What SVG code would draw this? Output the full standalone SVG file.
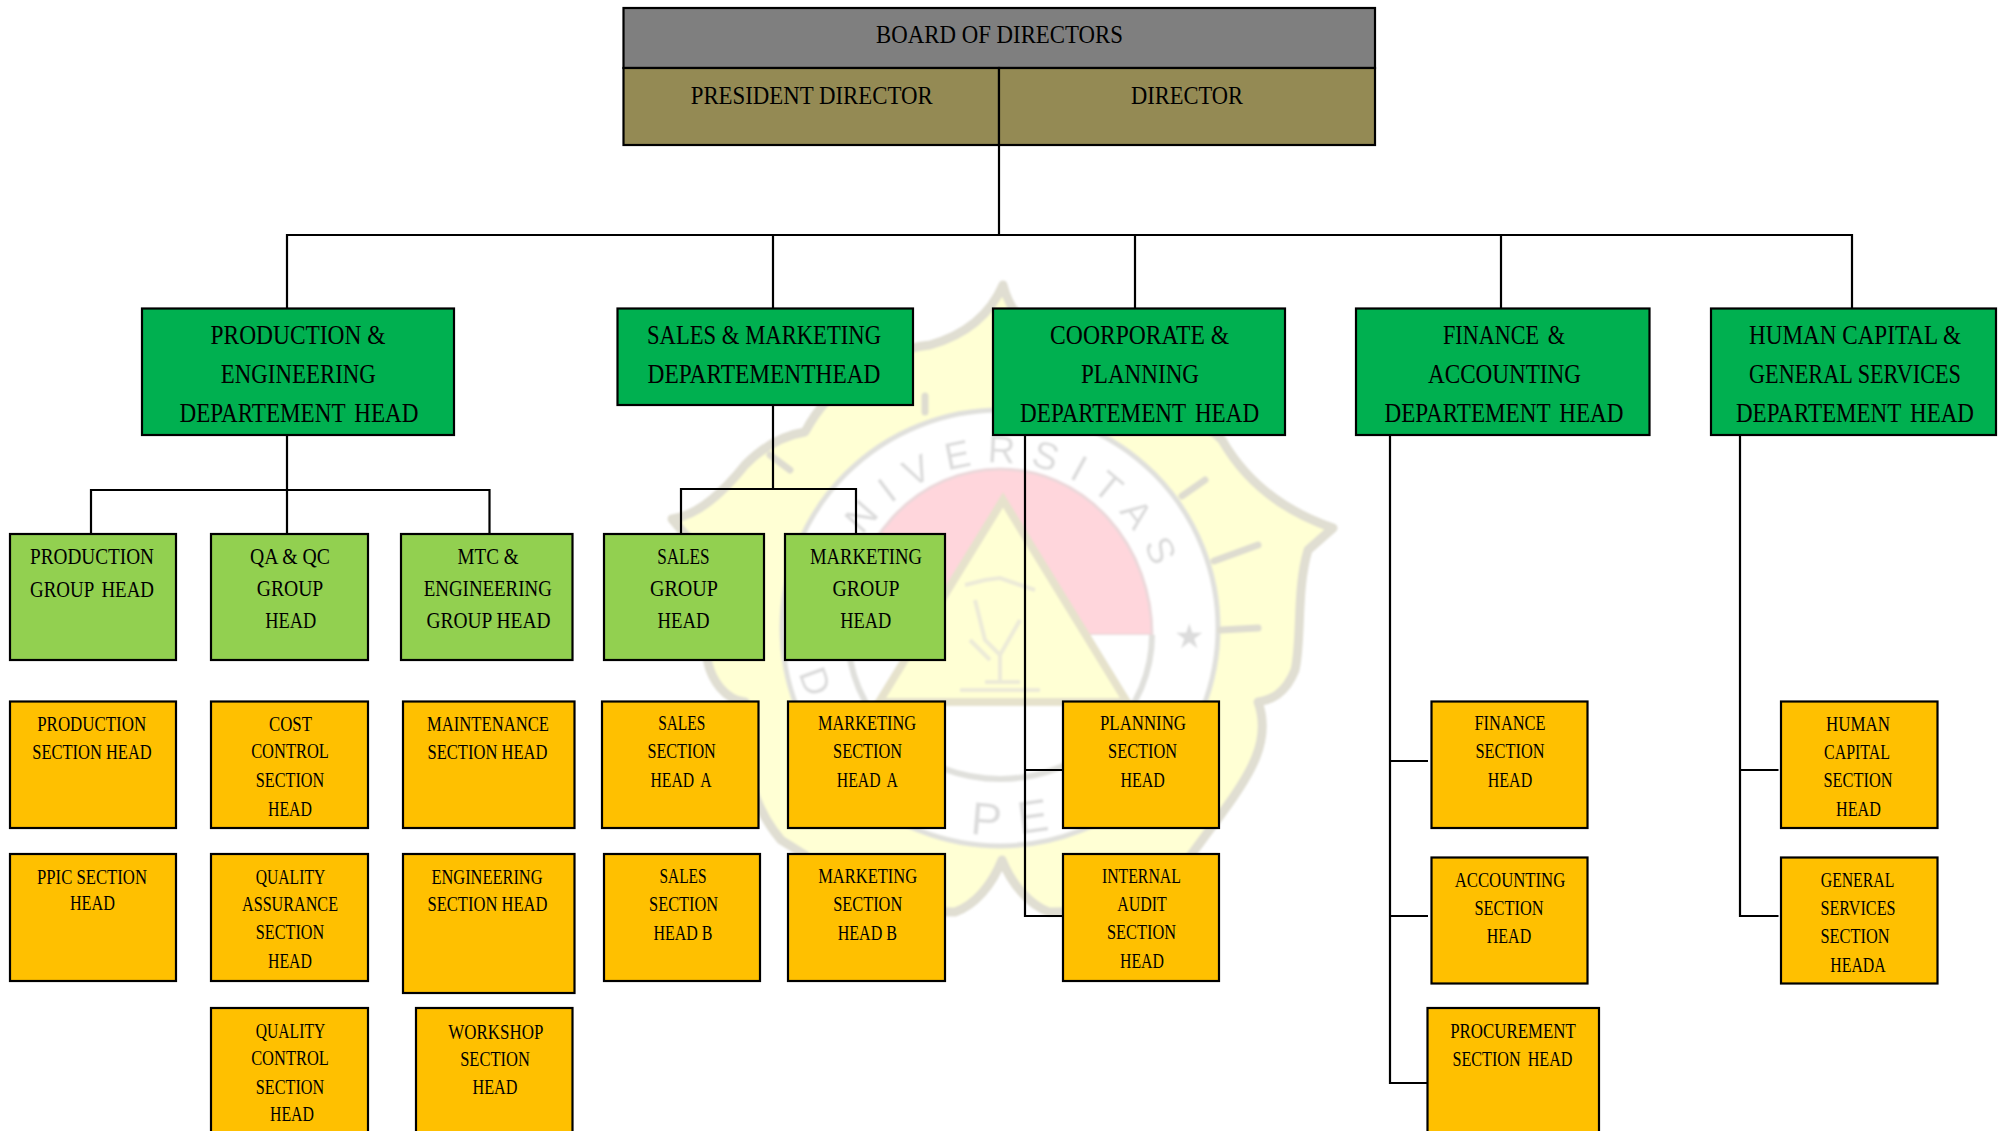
<svg xmlns="http://www.w3.org/2000/svg" width="2003" height="1131" viewBox="0 0 2003 1131">
<style>
text{font-family:"Liberation Serif","Times New Roman",serif;fill:#000;text-anchor:middle}
.b{font-size:26px}.d{font-size:27px}.g{font-size:24px}.s{font-size:22px}
.w{word-spacing:4px}
rect{stroke:#000;stroke-width:2.2}
.gray{fill:#7f7f7f}.olive{fill:#948a54}.dept{fill:#00b050}.grp{fill:#92d050}.sec{fill:#ffc000}
.c{fill:none;stroke:#000;stroke-width:2.2}
.wl{fill:none;stroke:#dedcd0;stroke-width:7;stroke-linejoin:round;stroke-linecap:round}
.wt{font-family:"Liberation Sans",Arial,sans-serif;fill:#dcdcdc;font-size:38px}
</style>
<defs>
<path id="arc" d="M 863 536 A 165 165 0 0 1 1165 628"/>
<filter id="soft" x="-5%" y="-5%" width="110%" height="110%"><feGaussianBlur stdDeviation="1"/></filter>
</defs>
<rect x="0" y="0" width="2003" height="1131" style="fill:#fff;stroke:none"/>
<g id="watermark" filter="url(#soft)">
<path d="M1003 285 C1012 320 1040 345 1090 358 C1130 365 1175 395 1222 440 C1245 480 1280 510 1333 528 L1308 550 C1296 590 1302 640 1295 670 C1285 695 1270 700 1258 702 C1272 740 1250 775 1222 813 L1191 855 C1190 890 1140 912 1049 912 C1030 905 1012 885 1002 860 C992 885 975 905 955 912 C860 912 815 890 805 855 L781 840 C755 810 738 760 745 702 C725 700 712 680 708 663 C700 620 695 570 690 540 L672 519 C700 515 725 490 745 465 C765 445 785 435 805 432 C830 385 880 350 930 345 C965 335 990 315 1003 285 Z" fill="#ffffd4" stroke="#e0ded2" stroke-width="9" stroke-linejoin="round"/>
<circle cx="1000" cy="628" r="218" fill="#fff" stroke="#e0e0dc" stroke-width="5"/>
<path d="M848 635 A152 166 0 0 1 1152 635 Z" fill="#ffd6dc" stroke="#ebd8da" stroke-width="3"/>
<path d="M848 635 A152 144 0 0 0 1152 635" fill="#fff" stroke="#e0e0dc" stroke-width="6"/>
<path d="M1003 500 L1127 702 L879 702 Z" fill="#ffffd4" stroke="#e6e2cc" stroke-width="8"/>
<path class="wl" d="M1182 496 L1205 480M1214 561 L1258 545M1221 630 L1258 628M925 396 L925 412M790 470 L770 455"/>
<path d="M965 585 L985 580 L1000 578 L1020 585 L1035 590M975 600 L985 640 L1000 655L1020 620M970 640 L990 660M1000 655 L1000 680M985 682 L1020 682M960 690 L1040 690" fill="none" stroke="#ecead8" stroke-width="4"/>
<text class="wt" style="text-anchor:start"><textPath href="#arc" style="letter-spacing:15px">NIVERSITAS</textPath></text>
<text class="wt" x="1189" y="648" style="font-size:34px">★</text>
<text class="wt" x="803" y="686" transform="rotate(70 803 686)">D</text>
<text class="wt" x="985" y="835" transform="rotate(5 985 835)" style="font-size:46px">P</text>
<text class="wt" x="1035" y="832" transform="rotate(-8 1035 832)" style="font-size:46px">E</text>
</g>
<g id="connectors">
<path class="c" d="M999 145V235M287 308V235H1852V308M773 235V308M1135 235V308M1501 235V308"/>
<path class="c" d="M287 435V534M91 534V490H489.500V534"/>
<path class="c" d="M773 405V489M681 534V489H856V534"/>
<path class="c" d="M1025 435V916H1062M1025 770H1062"/>
<path class="c" d="M1390 435V1083H1428M1390 761H1428M1390 916H1428"/>
<path class="c" d="M1740 435V916H1778.500M1740 770H1778.500"/>
</g>
<g id="board">
<rect class="gray" x="623.500" y="8" width="751.500" height="60"/>
<text class="b" x="999.500" y="43" textLength="247" lengthAdjust="spacingAndGlyphs">BOARD OF DIRECTORS</text>
</g>
<g id="president-director">
<rect class="olive" x="623.500" y="68" width="375.500" height="77"/>
<text class="b" x="811.700" y="104" textLength="242" lengthAdjust="spacingAndGlyphs">PRESIDENT DIRECTOR</text>
</g>
<g id="director">
<rect class="olive" x="999" y="68" width="376" height="77"/>
<text class="b" x="1187" y="104" textLength="112" lengthAdjust="spacingAndGlyphs">DIRECTOR</text>
</g>
<g id="dept-production">
<rect class="dept" x="142" y="308.500" width="312" height="126.500"/>
<text class="d" x="298" y="344" textLength="175" lengthAdjust="spacingAndGlyphs">PRODUCTION &amp;</text>
<text class="d" x="298.300" y="383" textLength="155" lengthAdjust="spacingAndGlyphs">ENGINEERING</text>
<text class="d w" x="299" y="422" textLength="239" lengthAdjust="spacingAndGlyphs">DEPARTEMENT HEAD</text>
</g>
<g id="dept-sales">
<rect class="dept" x="617.500" y="308.500" width="295.500" height="96.500"/>
<text class="d" x="764" y="344" textLength="234" lengthAdjust="spacingAndGlyphs">SALES &amp; MARKETING</text>
<text class="d" x="764" y="383" textLength="233" lengthAdjust="spacingAndGlyphs">DEPARTEMENTHEAD</text>
</g>
<g id="dept-corporate">
<rect class="dept" x="993" y="308.500" width="292" height="126.500"/>
<text class="d" x="1139.600" y="344" textLength="179" lengthAdjust="spacingAndGlyphs">COORPORATE &amp;</text>
<text class="d" x="1140" y="383" textLength="118" lengthAdjust="spacingAndGlyphs">PLANNING</text>
<text class="d w" x="1139.600" y="422" textLength="239" lengthAdjust="spacingAndGlyphs">DEPARTEMENT HEAD</text>
</g>
<g id="dept-finance">
<rect class="dept" x="1356" y="308.500" width="293.500" height="126.500"/>
<text class="d w" x="1504" y="344" textLength="122" lengthAdjust="spacingAndGlyphs">FINANCE &amp;</text>
<text class="d" x="1504.500" y="383" textLength="153" lengthAdjust="spacingAndGlyphs">ACCOUNTING</text>
<text class="d w" x="1504" y="422" textLength="239" lengthAdjust="spacingAndGlyphs">DEPARTEMENT HEAD</text>
</g>
<g id="dept-hc">
<rect class="dept" x="1711" y="308.500" width="285" height="126.500"/>
<text class="d" x="1855" y="344" textLength="212" lengthAdjust="spacingAndGlyphs">HUMAN CAPITAL &amp;</text>
<text class="d" x="1855" y="383" textLength="212" lengthAdjust="spacingAndGlyphs">GENERAL SERVICES</text>
<text class="d w" x="1855" y="422" textLength="238" lengthAdjust="spacingAndGlyphs">DEPARTEMENT HEAD</text>
</g>
<g id="group-production">
<rect class="grp" x="10" y="534" width="166" height="126"/>
<text class="g" x="92" y="564" textLength="124" lengthAdjust="spacingAndGlyphs">PRODUCTION</text>
<text class="g w" x="92" y="596.500" textLength="124" lengthAdjust="spacingAndGlyphs">GROUP HEAD</text>
</g>
<g id="group-qa">
<rect class="grp" x="211" y="534" width="157" height="126"/>
<text class="g" x="290" y="564" textLength="80" lengthAdjust="spacingAndGlyphs">QA &amp; QC</text>
<text class="g" x="290" y="596" textLength="66.600" lengthAdjust="spacingAndGlyphs">GROUP</text>
<text class="g" x="290.800" y="628" textLength="51" lengthAdjust="spacingAndGlyphs">HEAD</text>
</g>
<g id="group-mtc">
<rect class="grp" x="401" y="534" width="171.500" height="126"/>
<text class="g" x="488" y="564" textLength="61" lengthAdjust="spacingAndGlyphs">MTC &amp;</text>
<text class="g" x="487.800" y="596" textLength="128" lengthAdjust="spacingAndGlyphs">ENGINEERING</text>
<text class="g" x="488.500" y="628" textLength="124" lengthAdjust="spacingAndGlyphs">GROUP HEAD</text>
</g>
<g id="group-sales">
<rect class="grp" x="604" y="534" width="160" height="126"/>
<text class="g" x="683.400" y="564" textLength="52.500" lengthAdjust="spacingAndGlyphs">SALES</text>
<text class="g" x="684" y="596" textLength="68" lengthAdjust="spacingAndGlyphs">GROUP</text>
<text class="g" x="683.600" y="628" textLength="52" lengthAdjust="spacingAndGlyphs">HEAD</text>
</g>
<g id="group-marketing">
<rect class="grp" x="785" y="534" width="160" height="126"/>
<text class="g" x="866" y="564" textLength="112" lengthAdjust="spacingAndGlyphs">MARKETING</text>
<text class="g" x="866" y="596" textLength="67" lengthAdjust="spacingAndGlyphs">GROUP</text>
<text class="g" x="865.800" y="628" textLength="51" lengthAdjust="spacingAndGlyphs">HEAD</text>
</g>
<g id="sec-production">
<rect class="sec" x="10" y="701.500" width="166" height="126.500"/>
<text class="s" x="91.700" y="730.500" textLength="109" lengthAdjust="spacingAndGlyphs">PRODUCTION</text>
<text class="s" x="92" y="759" textLength="119.400" lengthAdjust="spacingAndGlyphs">SECTION HEAD</text>
</g>
<g id="sec-ppic">
<rect class="sec" x="10" y="854" width="166" height="127"/>
<text class="s" x="92" y="883.500" textLength="110" lengthAdjust="spacingAndGlyphs">PPIC SECTION</text>
<text class="s" x="92.400" y="910" textLength="45" lengthAdjust="spacingAndGlyphs">HEAD</text>
</g>
<g id="sec-cost">
<rect class="sec" x="211" y="701.500" width="157" height="126.500"/>
<text class="s" x="290.500" y="730.500" textLength="43" lengthAdjust="spacingAndGlyphs">COST</text>
<text class="s" x="290" y="758" textLength="77.700" lengthAdjust="spacingAndGlyphs">CONTROL</text>
<text class="s" x="290" y="787" textLength="68.500" lengthAdjust="spacingAndGlyphs">SECTION</text>
<text class="s" x="290" y="816" textLength="44" lengthAdjust="spacingAndGlyphs">HEAD</text>
</g>
<g id="sec-qa">
<rect class="sec" x="211" y="854" width="157" height="127"/>
<text class="s" x="290.500" y="883.500" textLength="69.600" lengthAdjust="spacingAndGlyphs">QUALITY</text>
<text class="s" x="290" y="911" textLength="96" lengthAdjust="spacingAndGlyphs">ASSURANCE</text>
<text class="s" x="290" y="939" textLength="68.500" lengthAdjust="spacingAndGlyphs">SECTION</text>
<text class="s" x="290" y="968" textLength="44" lengthAdjust="spacingAndGlyphs">HEAD</text>
</g>
<g id="sec-qc">
<rect class="sec" x="211" y="1008" width="157" height="140"/>
<text class="s" x="290.500" y="1038" textLength="69.600" lengthAdjust="spacingAndGlyphs">QUALITY</text>
<text class="s" x="290" y="1065" textLength="77.700" lengthAdjust="spacingAndGlyphs">CONTROL</text>
<text class="s" x="290" y="1093.500" textLength="68.500" lengthAdjust="spacingAndGlyphs">SECTION</text>
<text class="s" x="292" y="1121" textLength="44" lengthAdjust="spacingAndGlyphs">HEAD</text>
</g>
<g id="sec-maintenance">
<rect class="sec" x="403" y="701.500" width="171.500" height="126.500"/>
<text class="s" x="488" y="730.500" textLength="122" lengthAdjust="spacingAndGlyphs">MAINTENANCE</text>
<text class="s" x="487.500" y="759" textLength="120" lengthAdjust="spacingAndGlyphs">SECTION HEAD</text>
</g>
<g id="sec-engineering">
<rect class="sec" x="403" y="854" width="171.500" height="139"/>
<text class="s" x="487" y="883.500" textLength="111" lengthAdjust="spacingAndGlyphs">ENGINEERING</text>
<text class="s" x="487.500" y="910.500" textLength="120" lengthAdjust="spacingAndGlyphs">SECTION HEAD</text>
</g>
<g id="sec-workshop">
<rect class="sec" x="416" y="1008" width="156.500" height="140"/>
<text class="s" x="495.800" y="1038.500" textLength="95" lengthAdjust="spacingAndGlyphs">WORKSHOP</text>
<text class="s" x="495" y="1065.500" textLength="69.600" lengthAdjust="spacingAndGlyphs">SECTION</text>
<text class="s" x="495" y="1093.500" textLength="45" lengthAdjust="spacingAndGlyphs">HEAD</text>
</g>
<g id="sec-sales-a">
<rect class="sec" x="602" y="701.500" width="156.500" height="126.500"/>
<text class="s" x="681.700" y="730" textLength="47" lengthAdjust="spacingAndGlyphs">SALES</text>
<text class="s" x="681.600" y="758" textLength="68.400" lengthAdjust="spacingAndGlyphs">SECTION</text>
<text class="s w" x="681" y="787" textLength="61" lengthAdjust="spacingAndGlyphs">HEAD A</text>
</g>
<g id="sec-sales-b">
<rect class="sec" x="604" y="854" width="156" height="127"/>
<text class="s" x="683" y="883" textLength="47" lengthAdjust="spacingAndGlyphs">SALES</text>
<text class="s" x="683.600" y="911" textLength="69" lengthAdjust="spacingAndGlyphs">SECTION</text>
<text class="s" x="683" y="940" textLength="59" lengthAdjust="spacingAndGlyphs">HEAD B</text>
</g>
<g id="sec-marketing-a">
<rect class="sec" x="788" y="701.500" width="157" height="126.500"/>
<text class="s" x="867" y="730" textLength="98" lengthAdjust="spacingAndGlyphs">MARKETING</text>
<text class="s" x="867.600" y="758" textLength="69" lengthAdjust="spacingAndGlyphs">SECTION</text>
<text class="s w" x="867.300" y="787" textLength="61" lengthAdjust="spacingAndGlyphs">HEAD A</text>
</g>
<g id="sec-marketing-b">
<rect class="sec" x="788" y="854" width="157" height="127"/>
<text class="s" x="867.700" y="883" textLength="99" lengthAdjust="spacingAndGlyphs">MARKETING</text>
<text class="s" x="867.700" y="911" textLength="69" lengthAdjust="spacingAndGlyphs">SECTION</text>
<text class="s" x="867.400" y="940" textLength="59.400" lengthAdjust="spacingAndGlyphs">HEAD B</text>
</g>
<g id="sec-planning">
<rect class="sec" x="1063" y="701.500" width="156" height="126.500"/>
<text class="s" x="1143" y="730" textLength="86" lengthAdjust="spacingAndGlyphs">PLANNING</text>
<text class="s" x="1142.600" y="758" textLength="69" lengthAdjust="spacingAndGlyphs">SECTION</text>
<text class="s" x="1142.600" y="787" textLength="44.400" lengthAdjust="spacingAndGlyphs">HEAD</text>
</g>
<g id="sec-audit">
<rect class="sec" x="1063" y="854" width="156" height="127"/>
<text class="s" x="1141.400" y="883" textLength="79" lengthAdjust="spacingAndGlyphs">INTERNAL</text>
<text class="s" x="1142" y="911" textLength="49.600" lengthAdjust="spacingAndGlyphs">AUDIT</text>
<text class="s" x="1141.500" y="939" textLength="69" lengthAdjust="spacingAndGlyphs">SECTION</text>
<text class="s" x="1142" y="968" textLength="44" lengthAdjust="spacingAndGlyphs">HEAD</text>
</g>
<g id="sec-finance">
<rect class="sec" x="1431.500" y="701.500" width="156" height="126.500"/>
<text class="s" x="1510" y="730" textLength="71" lengthAdjust="spacingAndGlyphs">FINANCE</text>
<text class="s" x="1510" y="758" textLength="69" lengthAdjust="spacingAndGlyphs">SECTION</text>
<text class="s" x="1510" y="787" textLength="44.400" lengthAdjust="spacingAndGlyphs">HEAD</text>
</g>
<g id="sec-accounting">
<rect class="sec" x="1431.500" y="857.500" width="156" height="126"/>
<text class="s" x="1510" y="887" textLength="110.600" lengthAdjust="spacingAndGlyphs">ACCOUNTING</text>
<text class="s" x="1509" y="915" textLength="69" lengthAdjust="spacingAndGlyphs">SECTION</text>
<text class="s" x="1509" y="943" textLength="44.400" lengthAdjust="spacingAndGlyphs">HEAD</text>
</g>
<g id="sec-procurement">
<rect class="sec" x="1427.500" y="1008" width="171.500" height="140"/>
<text class="s" x="1513" y="1038" textLength="125.500" lengthAdjust="spacingAndGlyphs">PROCUREMENT</text>
<text class="s w" x="1512.500" y="1066" textLength="120" lengthAdjust="spacingAndGlyphs">SECTION HEAD</text>
</g>
<g id="sec-hc">
<rect class="sec" x="1781" y="701.500" width="156.500" height="126.500"/>
<text class="s" x="1858" y="730.500" textLength="64" lengthAdjust="spacingAndGlyphs">HUMAN</text>
<text class="s" x="1857" y="758.500" textLength="66" lengthAdjust="spacingAndGlyphs">CAPITAL</text>
<text class="s" x="1858" y="787" textLength="69" lengthAdjust="spacingAndGlyphs">SECTION</text>
<text class="s" x="1858.400" y="816" textLength="44.800" lengthAdjust="spacingAndGlyphs">HEAD</text>
</g>
<g id="sec-general">
<rect class="sec" x="1781" y="857.500" width="156.500" height="126"/>
<text class="s" x="1857.500" y="887" textLength="73.500" lengthAdjust="spacingAndGlyphs">GENERAL</text>
<text class="s" x="1858" y="915" textLength="75" lengthAdjust="spacingAndGlyphs">SERVICES</text>
<text class="s" x="1855" y="943" textLength="69" lengthAdjust="spacingAndGlyphs">SECTION</text>
<text class="s" x="1858" y="971.500" textLength="55.400" lengthAdjust="spacingAndGlyphs">HEADA</text>
</g>
</svg>
